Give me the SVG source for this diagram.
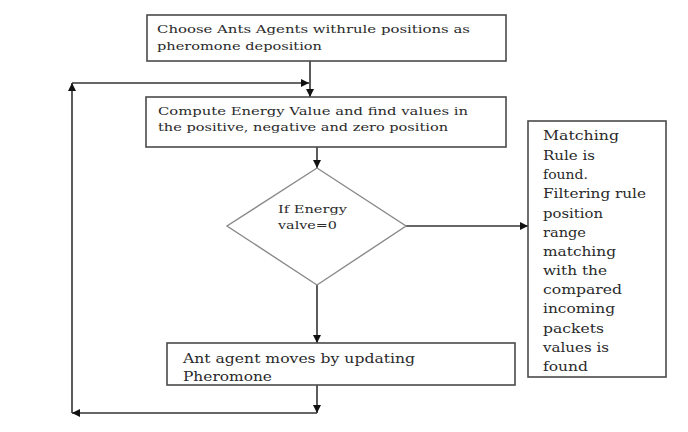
<svg xmlns="http://www.w3.org/2000/svg" width="688" height="432" viewBox="0 0 688 432">
<defs>
<style>
.box{fill:#fff;stroke:#4a4a4a;stroke-width:1.6}
.dia{fill:#fff;stroke:#8a8a8a;stroke-width:1.4}
.con{fill:none;stroke:#333;stroke-width:1.6}
.t{font-family:"DejaVu Serif","Liberation Serif",serif;fill:#2a2a2a}
.s12{font-size:11.5px}
.s14{font-size:13.5px}
</style>
<marker id="ah" viewBox="0 0 10 10" refX="10" refY="5" markerWidth="8" markerHeight="8" markerUnits="userSpaceOnUse" orient="auto">
<path d="M0,0 L10,5 L0,10 Z" fill="#111"/>
</marker>
</defs>
<rect width="688" height="432" fill="#fff"/>
<g id="connectors">
<line class="con" x1="310" y1="61" x2="310" y2="97" marker-end="url(#ah)"/>
<line class="con" x1="317" y1="147" x2="317" y2="168" marker-end="url(#ah)"/>
<line class="con" x1="406" y1="226" x2="528" y2="226" marker-end="url(#ah)"/>
<line class="con" x1="317" y1="285" x2="317" y2="343" marker-end="url(#ah)"/>
<line class="con" x1="317" y1="385" x2="317" y2="413" marker-end="url(#ah)"/>
<line class="con" x1="317" y1="413" x2="72" y2="413" marker-end="url(#ah)"/>
<line class="con" x1="72" y1="413" x2="72" y2="83" marker-end="url(#ah)"/>
<line class="con" x1="72" y1="83" x2="309" y2="83" marker-end="url(#ah)"/>
</g>
<g id="n1">
<rect class="box" x="147" y="15" width="359" height="46"/>
<text class="t s12" x="157" y="33" textLength="313" lengthAdjust="spacingAndGlyphs">Choose Ants Agents withrule positions as</text>
<text class="t s12" x="157" y="50" textLength="165" lengthAdjust="spacingAndGlyphs">pheromone deposition</text>
</g>
<g id="n2">
<rect class="box" x="146" y="97" width="360" height="50"/>
<text class="t s12" x="158" y="115" textLength="310" lengthAdjust="spacingAndGlyphs">Compute Energy Value  and find values in</text>
<text class="t s12" x="158" y="131" textLength="290" lengthAdjust="spacingAndGlyphs">the positive, negative and zero position</text>
</g>
<g id="n3">
<polygon class="dia" points="317,168 406,226 317,285 227,226"/>
<text class="t s12" x="278" y="213" textLength="69" lengthAdjust="spacingAndGlyphs">If Energy</text>
<text class="t s12" x="278" y="229" textLength="59" lengthAdjust="spacingAndGlyphs">valve=0</text>
</g>
<g id="n4">
<rect class="box" x="528" y="121" width="138" height="256"/>
<text class="t s14" x="543" y="140" textLength="76" lengthAdjust="spacingAndGlyphs">Matching</text>
<text class="t s14" x="543" y="160" textLength="52" lengthAdjust="spacingAndGlyphs">Rule is</text>
<text class="t s14" x="543" y="179" textLength="45" lengthAdjust="spacingAndGlyphs">found.</text>
<text class="t s14" x="543" y="198" textLength="103" lengthAdjust="spacingAndGlyphs">Filtering rule</text>
<text class="t s14" x="543" y="218" textLength="60" lengthAdjust="spacingAndGlyphs">position</text>
<text class="t s14" x="543" y="237" textLength="43" lengthAdjust="spacingAndGlyphs">range</text>
<text class="t s14" x="543" y="256" textLength="73" lengthAdjust="spacingAndGlyphs">matching</text>
<text class="t s14" x="543" y="275" textLength="64" lengthAdjust="spacingAndGlyphs">with the</text>
<text class="t s14" x="543" y="294" textLength="79" lengthAdjust="spacingAndGlyphs">compared</text>
<text class="t s14" x="543" y="313" textLength="72" lengthAdjust="spacingAndGlyphs">incoming</text>
<text class="t s14" x="543" y="333" textLength="61" lengthAdjust="spacingAndGlyphs">packets</text>
<text class="t s14" x="543" y="352" textLength="66" lengthAdjust="spacingAndGlyphs">values is</text>
<text class="t s14" x="543" y="371" textLength="45" lengthAdjust="spacingAndGlyphs">found</text>
</g>
<g id="n5">
<rect class="box" x="167" y="343" width="348" height="42"/>
<text class="t s14" x="183" y="363" textLength="232" lengthAdjust="spacingAndGlyphs">Ant agent moves by updating</text>
<text class="t s14" x="183" y="381" textLength="89" lengthAdjust="spacingAndGlyphs">Pheromone</text>
</g>
</svg>
